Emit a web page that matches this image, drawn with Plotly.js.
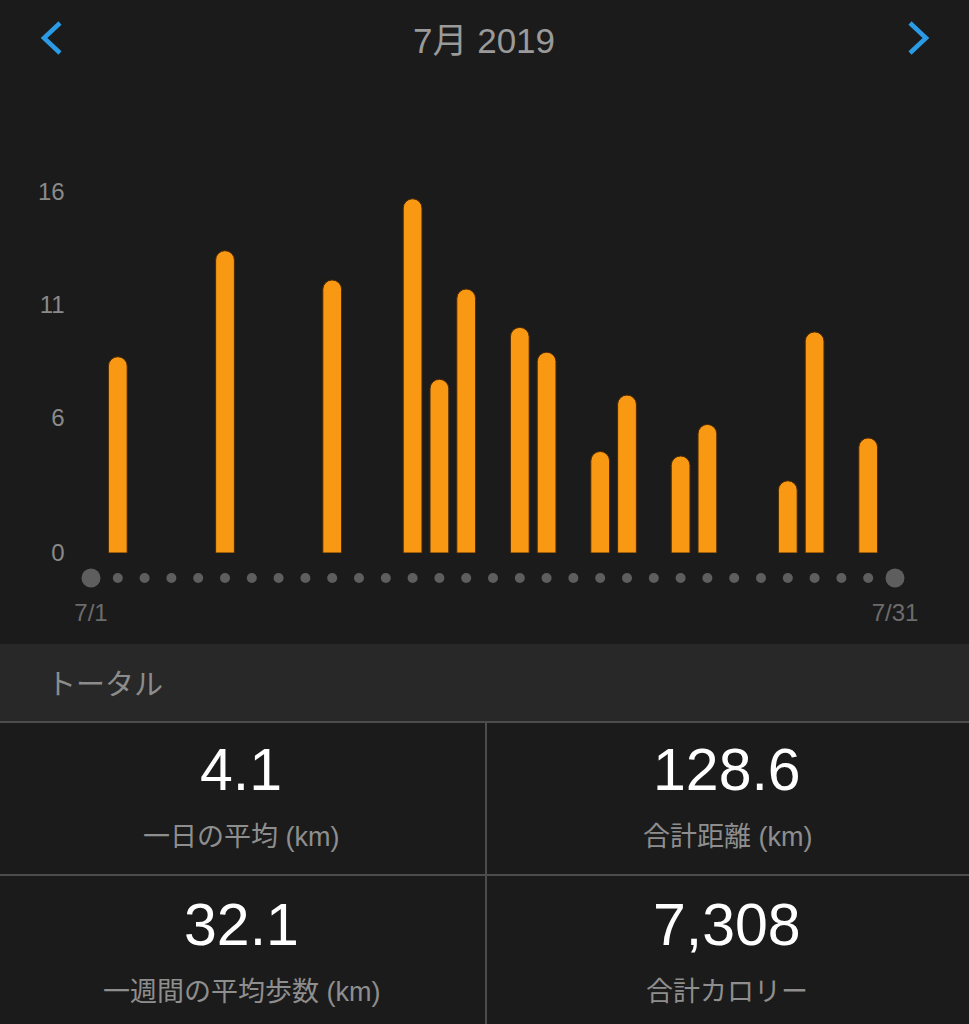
<!DOCTYPE html>
<html>
<head>
<meta charset="utf-8">
<script src="https://cdn.plot.ly/plotly-3.0.1.min.js"></script>
<style>
html,body{margin:0;padding:0;background:#1b1b1b;}
#chart{width:969px;height:1024px;}
</style>
</head>
<body>
<div id="chart"></div>
<script>
// ---- data ----
const monthTitle = "7月 2019";
const days = [1,2,3,4,5,6,7,8,9,10,11,12,13,14,15,16,17,18,19,20,21,22,23,24,25,26,27,28,29,30,31];
const distanceKm = [null,8.7,null,null,null,13.4,null,null,null,12.1,null,null,15.7,7.7,11.7,null,10.0,8.9,null,4.5,7.0,null,4.3,5.7,null,null,3.2,9.8,null,5.1,null];
const yTickVals = [0,6,11,16];
const xTickVals = [1,31];
const xTickText = ["7/1","7/31"];
const sectionTitle = "トータル";
const statValues = ["4.1","128.6","32.1","7,308"];
const statLabels = ["一日の平均 (km)","合計距離 (km)","一週間の平均歩数 (km)","合計カロリー"];

// ---- helpers (pixel -> paper) ----
const W = 969, H = 1024;
const px = x => x / W;
const py = y => 1 - y / H;
const FONT = "Liberation Sans, 'Noto Sans CJK JP', sans-serif";

const dotSizes = days.map((d,i) => (i === 0 || i === days.length-1) ? 19 : 10);

const traces = [
  {
    type: "bar",
    x: days,
    y: distanceKm,
    xaxis: "x",
    yaxis: "y",
    width: 0.7,
    marker: {
      color: "#f99812",
      cornerradius: "50%",
      line: {color: "#4a2a05", width: 1}
    },
    hoverinfo: "skip"
  },
  {
    type: "scatter",
    mode: "markers",
    x: days,
    y: days.map(() => 0),
    xaxis: "x",
    yaxis: "y2",
    marker: {color: "#7b7b7b", size: dotSizes, line: {width: 0}},
    hoverinfo: "skip"
  }
];

const shapes = [
  {type:"rect", xref:"paper", yref:"paper", x0:0, x1:1, y0:py(722), y1:py(644),
   fillcolor:"#282828", line:{width:0}, layer:"below"},
  {type:"line", xref:"paper", yref:"paper", x0:0, x1:1, y0:py(722), y1:py(722),
   line:{color:"#4c4c4c", width:2}},
  {type:"line", xref:"paper", yref:"paper", x0:0, x1:1, y0:py(875), y1:py(875),
   line:{color:"#4c4c4c", width:2}},
  {type:"line", xref:"paper", yref:"paper", x0:px(486), x1:px(486), y0:py(722), y1:0,
   line:{color:"#4c4c4c", width:2}},
  {type:"path", xref:"paper", yref:"paper",
   path:`M ${px(60)},${py(23)} L ${px(44)},${py(38)} L ${px(60)},${py(53)}`,
   line:{color:"#2c9be6", width:4.5}},
  {type:"path", xref:"paper", yref:"paper",
   path:`M ${px(910)},${py(23)} L ${px(926)},${py(38)} L ${px(910)},${py(53)}`,
   line:{color:"#2c9be6", width:4.5}}
];

const cellCenters = [[241,770,837],[727,770,837],[241,925,992],[727,925,992]];
const annotations = [
  {text: monthTitle, xref:"paper", yref:"paper", x:px(484), y:py(40), xanchor:"center", yanchor:"middle",
   showarrow:false, font:{family:FONT, size:35, color:"#9a9a9a"}},
  {text: sectionTitle, xref:"paper", yref:"paper", x:px(45), y:py(685), xanchor:"left", yanchor:"middle",
   showarrow:false, font:{family:FONT, size:29, color:"#8c8c8c"}}
];
statValues.forEach((v,i) => {
  const c = cellCenters[i];
  annotations.push({text: v, xref:"paper", yref:"paper", x:px(c[0]), y:py(c[1]), xanchor:"center", yanchor:"middle",
    showarrow:false, font:{family:FONT, size:59, color:"#ffffff"}});
  annotations.push({text: statLabels[i], xref:"paper", yref:"paper", x:px(c[0]), y:py(c[2]), xanchor:"center", yanchor:"middle",
    showarrow:false, font:{family:FONT, size:27, color:"#8e8e8e"}});
});

const layout = {
  width: W, height: H,
  margin: {l:0, r:0, t:0, b:0, pad:0},
  paper_bgcolor: "#1b1b1b",
  plot_bgcolor: "rgba(0,0,0,0)",
  showlegend: false,
  bargap: 0.3,
  xaxis: {
    domain: [px(77.6), px(908.4)],
    range: [0.5, 31.5],
    anchor: "y2",
    tickvals: xTickVals,
    ticktext: xTickText,
    ticks: "",
    ticklabelstandoff: 8,
    tickfont: {family: FONT, size: 24, color: "#6c6c6c"},
    showgrid: false, zeroline: false, showline: false,
    fixedrange: true
  },
  yaxis: {
    domain: [py(553 + 0) , py(553 - 17*22.5625)],
    range: [0, 17],
    tickvals: yTickVals,
    ticks: "",
    ticklabelstandoff: 12,
    tickfont: {family: FONT, size: 24, color: "#8a8a8a"},
    showgrid: false, zeroline: false, showline: false,
    fixedrange: true
  },
  yaxis2: {
    domain: [py(588), py(568)],
    range: [-1, 1],
    anchor: "x",
    visible: false,
    fixedrange: true
  },
  shapes: shapes,
  annotations: annotations
};

Plotly.newPlot("chart", traces, layout, {displayModeBar: false, staticPlot: true});
</script>
</body>
</html>
